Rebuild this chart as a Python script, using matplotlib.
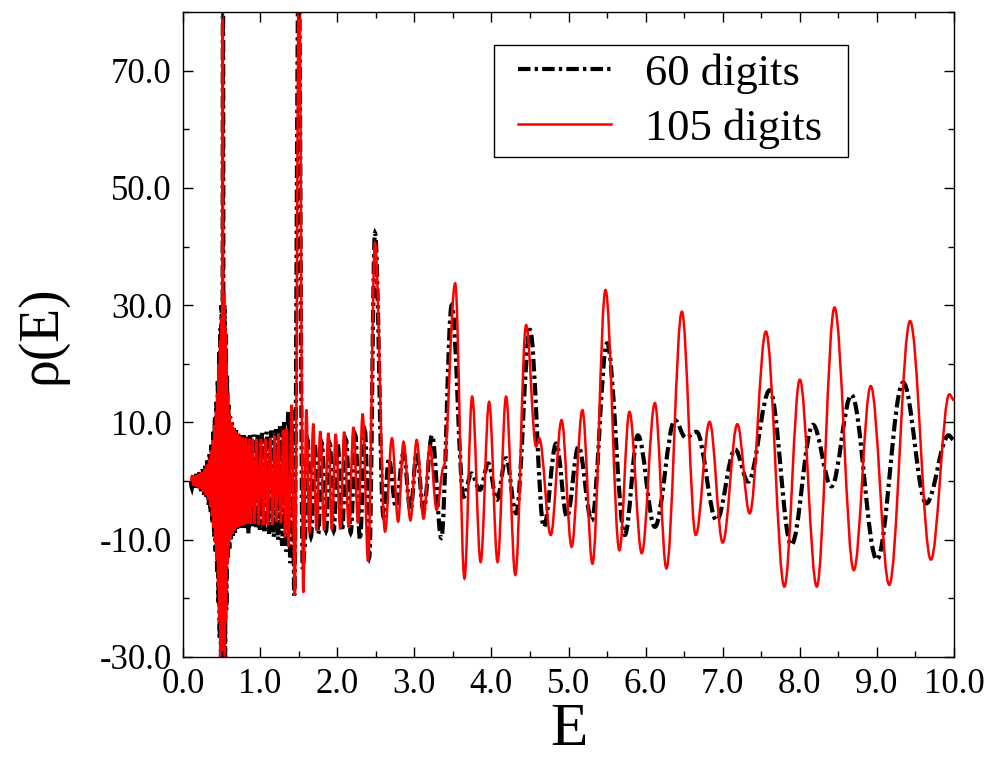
import matplotlib
matplotlib.use('Agg')
import matplotlib.pyplot as plt
from matplotlib.path import Path
from matplotlib.patches import PathPatch, Rectangle
from matplotlib.lines import Line2D
from matplotlib.ticker import MultipleLocator, FormatStrFormatter

plt.rcParams['font.family'] = ['Liberation Serif', 'DejaVu Serif']
plt.rcParams['axes.unicode_minus'] = False

# turning points (E, rho)
# 105 digits, red
red_early = [(0.10, 0.0), (0.12, 1.0), (0.14, -0.8), (0.16, 1.0), (0.18, -1.0), (0.20, 1.2),
             (0.22, -1.3), (0.24, 1.5), (0.26, -1.8), (0.28, 2.1), (0.295, -2.4), (0.31, 2.8),
             (0.325, -3.2), (0.34, 3.8), (0.352, -4.4), (0.364, 5.2), (0.376, -6.0), (0.388, 7.0),
             (0.398, -8.0), (0.408, 9.5), (0.418, -10.5), (0.428, 12.0), (0.437, -13.5),
             (0.446, 15.0), (0.455, -18.0), (0.464, 20.0), (0.472, -24.0), (0.480, 24.0),
             (0.488, -32.0), (0.496, 28.0), (0.504, -35.0), (0.515, 90.0), (0.526, -35.0),
             (0.534, 32.0), (0.542, -32.0), (0.550, 26.0), (0.558, -24.0), (0.566, 20.0),
             (0.575, -14.0), (0.585, 15.0), (0.595, -11.0), (0.606, 11.5), (0.617, -10.0),
             (0.629, 10.0), (0.641, -9.0), (0.654, 9.0), (0.667, -8.5), (0.681, 8.5),
             (0.695, -8.0), (0.710, 8.0), (0.725, -7.8), (0.741, 7.6), (0.758, -7.6),
             (0.776, 7.4), (0.795, -7.4), (0.815, 7.3), (0.836, -7.3), (0.858, 7.2),
             (0.881, -7.3), (0.905, 7.2), (0.930, -7.3), (0.956, 7.2), (0.983, -7.4),
             (1.011, 7.2), (1.040, -7.5), (1.070, 7.2), (1.100, -7.5), (1.131, 7.3),
             (1.162, -7.5), (1.190, 7.6)]
red_mid = [(1.215, -7.0), (1.24, 8.1), (1.27, -7.2), (1.30, 8.7), (1.325, -9.5), (1.345, 9.0),
           (1.37, -11.2), (1.41, 13.0), (1.45, -19.5), (1.505, 90.0), (1.56, -19.0),
           (1.60, 12.2), (1.64, -8.9), (1.69, 9.8), (1.73, -8.4), (1.78, 8.5), (1.83, -8.4),
           (1.885, 8.2), (1.93, -8.2), (1.98, 8.0), (2.04, -8.2), (2.09, 8.4), (2.15, -7.9),
           (2.21, 9.2), (2.27, -7.2), (2.33, 11.5), (2.40, -13.7), (2.49, 40.6),
           (2.62, -8.6), (2.71, 7.3), (2.79, -6.9), (2.86, 6.7), (2.95, -6.7), (3.03, 7.0),
           (3.12, -6.4), (3.20, 6.0), (3.29, -4.9), (3.38, 2.4)]
red_late = [(3.53, 33.7), (3.65, -16.6), (3.75, 14.4), (3.86, -13.8), (3.97, 13.5),
            (4.08, -13.8), (4.19, 14.4), (4.31, -16.0), (4.45, 26.6), (4.58, 5.9), (4.62, 7.3),
            (4.77, -9.2), (4.91, 10.4), (5.04, -11.2), (5.18, 12.1), (5.31, -14.1),
            (5.48, 32.6), (5.66, -11.8), (5.79, 11.8), (5.95, -12.3), (6.12, 13.3),
            (6.27, -14.9), (6.47, 28.9), (6.65, -9.2), (6.83, 10.1), (7.00, -10.5),
            (7.19, 9.7), (7.35, -5.5), (7.56, 25.5), (7.80, -18.0), (8.00, 17.3),
            (8.22, -18.0), (8.45, 29.6), (8.70, -15.2), (8.92, 16.2), (9.16, -17.7),
            (9.43, 27.3), (9.70, -13.4), (9.94, 14.8), (10.0, 13.8)]

# 60 digits, black
black_early = [(0.10, 0.0), (0.115, -1.2), (0.135, 1.3), (0.155, -1.1), (0.175, 1.2),
               (0.195, -1.3), (0.215, 1.5), (0.235, -1.7), (0.255, 2.0), (0.272, -2.3),
               (0.288, 2.6), (0.303, -3.0), (0.318, 3.5), (0.333, -4.0), (0.346, 4.6),
               (0.358, -5.3), (0.370, 6.2), (0.382, -7.2), (0.393, 8.4), (0.403, -9.5),
               (0.413, 11.0), (0.423, -12.0), (0.433, 13.5), (0.442, -15.5), (0.451, 17.0),
               (0.460, -21.0), (0.468, 22.0), (0.476, -27.0), (0.484, 26.0), (0.492, -35.0),
               (0.500, 30.0), (0.509, -35.0), (0.518, 90.0), (0.529, -35.0), (0.538, 30.0),
               (0.546, -30.0), (0.554, 25.0), (0.562, -22.0), (0.571, 18.0), (0.580, -13.0),
               (0.590, 13.0), (0.600, -11.5), (0.611, 11.0), (0.623, -10.0), (0.635, 10.0),
               (0.648, -9.3), (0.661, 9.2), (0.674, -8.8), (0.688, 8.7), (0.702, -8.4),
               (0.717, 8.2), (0.733, -8.2), (0.750, 8.0), (0.767, -8.0), (0.785, 7.8),
               (0.805, -8.0), (0.826, 7.8), (0.847, -8.9), (0.869, 7.8), (0.893, -8.0),
               (0.918, 7.9), (0.943, -8.1), (0.970, 7.9), (0.997, -8.3), (1.025, 8.2),
               (1.055, -8.9), (1.085, 8.4), (1.115, -9.0), (1.146, 8.6), (1.176, -9.5)]
black_mid = [(1.205, 8.8), (1.232, -10.0), (1.258, 9.3), (1.285, -11.0), (1.312, 10.0),
             (1.338, -12.0), (1.365, 11.8), (1.392, -14.0), (1.418, 12.0), (1.443, -19.5),
             (1.500, 90.0), (1.553, -15.0), (1.575, -12.0), (1.615, 7.0), (1.66, -9.5),
             (1.71, 6.3), (1.755, -9.0), (1.80, 6.5), (1.855, -8.5), (1.905, 6.3),
             (1.955, -8.5), (2.005, 6.5), (2.065, -8.5), (2.115, 7.0), (2.175, -8.8),
             (2.235, 7.8), (2.295, -10.0), (2.36, 8.5), (2.415, -13.0), (2.49, 42.3),
             (2.60, -6.1), (2.67, 3.8), (2.76, -4.4), (2.86, 4.8), (2.95, -5.0), (3.03, 4.8),
             (3.12, -5.0), (3.23, 7.8), (3.35, -9.7)]
black_late = [(3.485, 30.0), (3.64, -2.7), (3.74, 1.3), (3.85, -1.5), (3.96, 3.0),
              (4.07, -3.2), (4.19, 3.9), (4.32, -5.5), (4.50, 25.8), (4.68, -7.8), (4.84, 6.4),
              (4.98, -6.1), (5.13, 5.9), (5.30, -6.7), (5.50, 23.5), (5.73, -9.2), (5.90, 7.8),
              (6.12, -7.8), (6.38, 10.4), (6.52, 7.4), (6.66, 8.4), (6.92, -6.7), (7.16, 5.4),
              (7.33, -0.1), (7.61, 15.5), (7.89, -10.9), (8.17, 9.6), (8.41, -0.9),
              (8.67, 14.7), (9.00, -13.4), (9.34, 16.8), (9.64, -3.8), (9.93, 7.8), (10.0, 7.0)]


def curve_through(pts):
    # cubic pieces with flat tangents at every turning point
    verts = [pts[0]]
    codes = [Path.MOVETO]
    for (x0, y0), (x1, y1) in zip(pts[:-1], pts[1:]):
        h = 0.363 * (x1 - x0)
        verts += [(x0 + h, y0), (x1 - h, y1), (x1, y1)]
        codes += [Path.CURVE4] * 3
    return Path(verts, codes)


fig = plt.figure(figsize=(9.92, 7.61), dpi=100)
ax = fig.add_axes([0.1845, 0.1367, 0.7772, 0.8475])

black_ls = (0, (3.0, 1.0, 0.8, 1.0))
ax.add_patch(PathPatch(curve_through(black_early + black_mid + black_late), fill=False,
                       edgecolor='black', lw=3.0, linestyle=black_ls))
ax.add_patch(PathPatch(curve_through(red_early + red_mid + red_late), fill=False,
                       edgecolor='red', lw=1.8))

ax.set_xlim(0, 10)
ax.set_ylim(-30, 80)
ax.xaxis.set_major_locator(MultipleLocator(1.0))
ax.xaxis.set_minor_locator(MultipleLocator(0.5))
ax.yaxis.set_minor_locator(MultipleLocator(10.0))
ax.set_yticks([-30, -10, 10, 30, 50, 70])
ax.xaxis.set_major_formatter(FormatStrFormatter('%.1f'))
ax.yaxis.set_major_formatter(FormatStrFormatter('%.1f'))
ax.tick_params(which='both', direction='in', top=True, right=True, labelsize=25)
ax.tick_params(which='major', length=7, width=1.0, pad=8)
ax.tick_params(which='minor', length=4.5, width=1.0)
for s in ax.spines.values():
    s.set_linewidth(1.0)

ax.set_xlabel('E', fontsize=44)
ax.set_ylabel('ρ(E)', fontsize=40)
ax.xaxis.set_label_coords(0.5, -0.07)
ax.yaxis.set_label_coords(-0.15, 0.5)

# legend: frameless entries plus a plain box around them
handles = [Line2D([], [], color='black', lw=3.0, linestyle=black_ls),
           Line2D([], [], color='red', lw=1.8)]
ax.legend(handles, ['60 digits', '105 digits'], loc='upper left',
          bbox_to_anchor=(0.4345, 0.936), borderaxespad=0, borderpad=0,
          fontsize=32, frameon=False, handlelength=2.1,
          handletextpad=0.75, labelspacing=0.32)
ax.add_patch(Rectangle((0.4034, 0.7752), 0.4591, 0.1736, transform=ax.transAxes,
                       fill=False, edgecolor='black', lw=1.0, zorder=5))

plt.savefig('out.png', dpi=100)
